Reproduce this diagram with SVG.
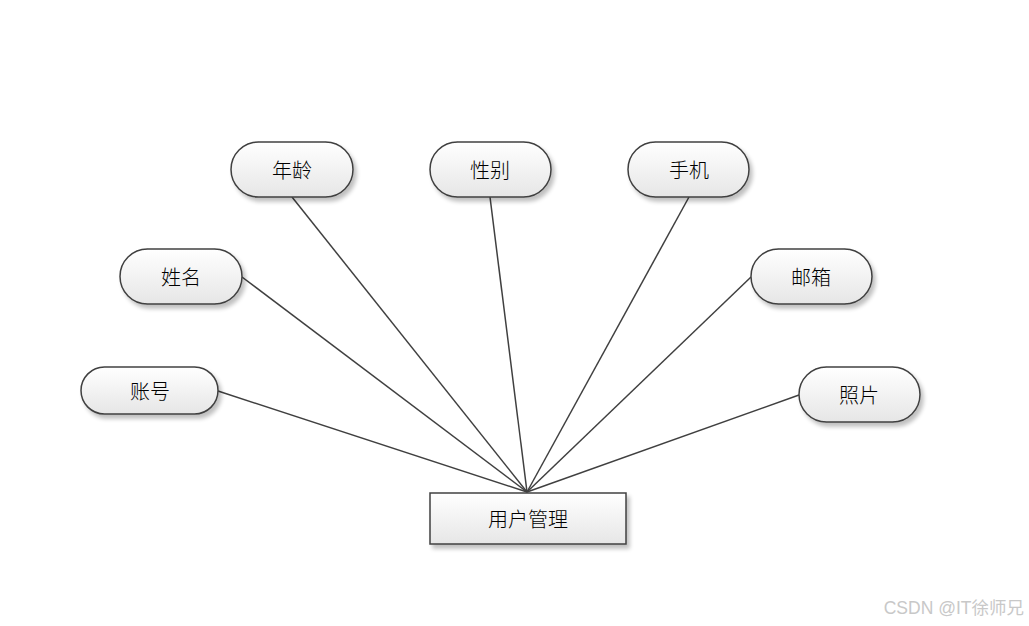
<svg xmlns="http://www.w3.org/2000/svg" width="1029" height="626" viewBox="0 0 1029 626">
<defs>
<linearGradient id="g" x1="0" y1="0" x2="0" y2="1">
<stop offset="0" stop-color="#ffffff"/>
<stop offset="1" stop-color="#e6e6e6"/>
</linearGradient>
<filter id="sh" x="-10%" y="-10%" width="130%" height="140%">
<feGaussianBlur in="SourceAlpha" stdDeviation="2"/>
<feOffset dx="3" dy="4" result="b"/>
<feComponentTransfer><feFuncA type="linear" slope="0.25"/></feComponentTransfer>
<feMerge><feMergeNode/><feMergeNode in="SourceGraphic"/></feMerge>
</filter>
</defs>
<style>
.n{fill:url(#g);stroke:#404040;stroke-width:1.5;filter:url(#sh)}
.t{font-family:"Noto Sans CJK SC","Liberation Sans",sans-serif;font-size:20px;font-weight:300;fill:#000;text-anchor:middle;dominant-baseline:central}
.c line{stroke:#404040;stroke-width:1.5}
.w{font-family:"Liberation Sans","Noto Sans CJK SC",sans-serif;font-size:17.5px;fill:#c8c8c8;text-anchor:end}
</style>
<rect width="1029" height="626" fill="#fff"/>
<g class="c" id="connectors">
<line x1="218" y1="391" x2="527" y2="492"/>
<line x1="242" y1="277" x2="527" y2="492"/>
<line x1="292" y1="197" x2="527" y2="492"/>
<line x1="490" y1="197" x2="527" y2="492"/>
<line x1="689" y1="197" x2="527" y2="492"/>
<line x1="751" y1="277" x2="527" y2="492"/>
<line x1="799" y1="395" x2="527" y2="492"/>
</g>
<g id="node-yhgl"><rect class="n" x="430" y="493" width="196" height="51"/><text class="t" x="528" y="518">用户管理</text></g>
<g id="node-zh"><rect class="n" x="81" y="367" width="137" height="47" rx="23.5"/><text class="t" x="150" y="390">账号</text></g>
<g id="node-xm"><rect class="n" x="120" y="249" width="122" height="55" rx="27.5"/><text class="t" x="181" y="276">姓名</text></g>
<g id="node-nl"><rect class="n" x="231" y="142" width="122" height="55" rx="27.5"/><text class="t" x="292" y="169">年龄</text></g>
<g id="node-xb"><rect class="n" x="430" y="142" width="121" height="55" rx="27.5"/><text class="t" x="490" y="169">性别</text></g>
<g id="node-sj"><rect class="n" x="628" y="142" width="121" height="55" rx="27.5"/><text class="t" x="689" y="169">手机</text></g>
<g id="node-yx"><rect class="n" x="751" y="249" width="121" height="55" rx="27.5"/><text class="t" x="811" y="276">邮箱</text></g>
<g id="node-zp"><rect class="n" x="799" y="367" width="121" height="55" rx="27.5"/><text class="t" x="859" y="394">照片</text></g>
<text class="w" x="1024" y="614">CSDN @IT徐师兄</text>
</svg>
